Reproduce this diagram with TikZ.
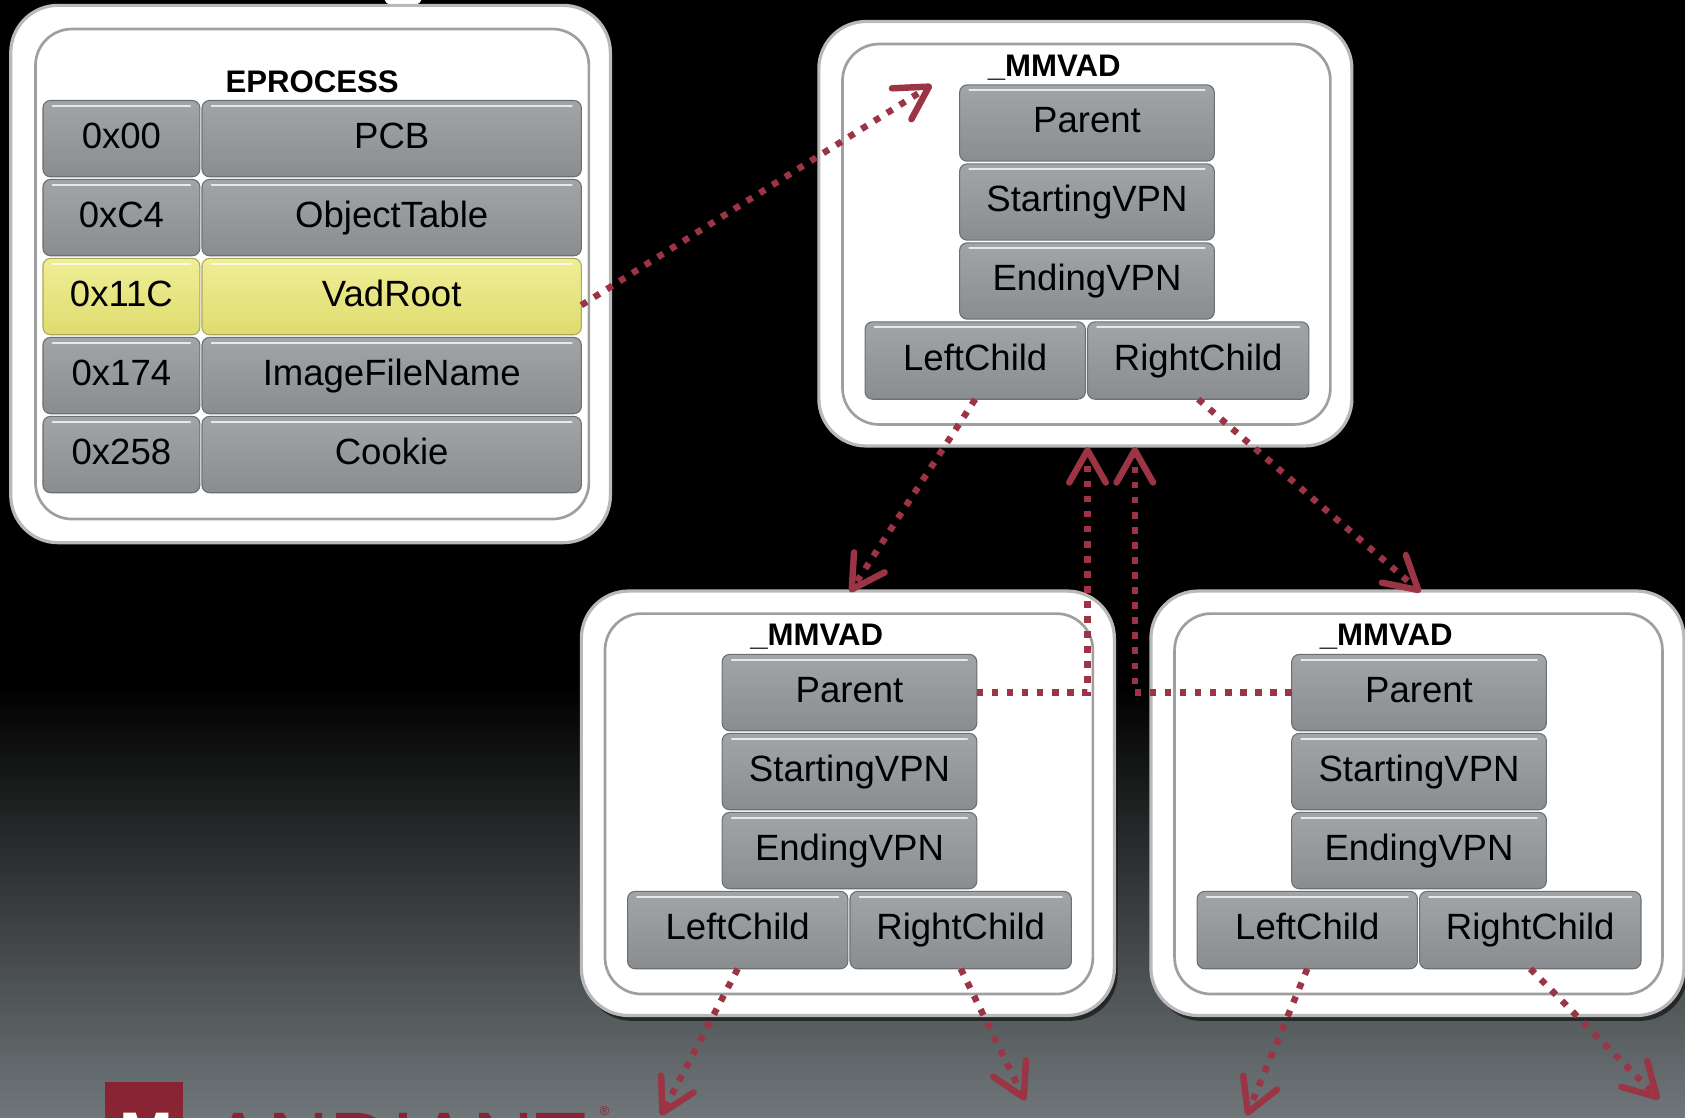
\documentclass[tikz,border=0pt]{standalone}
\usepackage{fontspec}
\setmainfont{Liberation Sans}
\usetikzlibrary{arrows.meta,shadows}
\definecolor{maroon}{RGB}{155,52,68}
\definecolor{logored}{RGB}{136,36,52}
\definecolor{celltop}{RGB}{162,165,168}
\definecolor{cellbot}{RGB}{138,141,144}
\definecolor{celledge}{RGB}{108,111,114}
\definecolor{vadtop}{RGB}{240,238,150}
\definecolor{vadbot}{RGB}{222,220,110}
\definecolor{vadedge}{RGB}{170,168,90}
\definecolor{bgmid}{RGB}{70,76,79}
\definecolor{bgbottom}{RGB}{112,119,122}
\tikzset{
  cell/.style={rectangle, rounded corners=7pt, draw=celledge, line width=1pt,
    top color=celltop, bottom color=cellbot, inner sep=0pt, outer sep=0pt,
    font=\fontsize{34}{40}\selectfont, text height=25pt, text depth=7pt,
    path picture={\draw[white, opacity=.75, line width=2pt, line cap=round]
      ([xshift=9pt,yshift=-5pt]path picture bounding box.north west) --
      ([xshift=-9pt,yshift=-5pt]path picture bounding box.north east);}},
  vadcell/.style={cell, top color=vadtop, bottom color=vadbot, draw=vadedge},
  outerbox/.style={fill=white, draw=gray!55, line width=3pt, rounded corners=44pt,
    drop shadow={shadow xshift=3pt, shadow yshift=-5pt, opacity=.55, fill=black}},
  innerbox/.style={draw=gray!75, line width=2.5pt, rounded corners=34pt},
  ttl/.style={font=\bfseries\fontsize{29}{34}\selectfont, anchor=base, inner sep=0pt},
  link/.style={draw=maroon, line width=6pt, dash pattern=on 6pt off 8pt,
    -{Straight Barb[length=30pt, width=34pt, line width=6pt, round]}}
}
\newcommand\mmvadbox[3]{%
  \begin{scope}[shift={(#1,#2)}]
    \draw[outerbox] (0,0) rectangle (496,395);
    \draw[innerbox] (22,21) rectangle (476,375);
    \node[ttl] (#3t) at (219,51) {\_MMVAD};
    \node[cell, minimum width=237pt, minimum height=71pt] (#3p) at (249.5,94.5) {Parent};
    \node[cell, minimum width=237pt, minimum height=71pt] (#3s) at (249.5,168) {StartingVPN};
    \node[cell, minimum width=237pt, minimum height=71pt] (#3e) at (249.5,241.5) {EndingVPN};
    \node[cell, minimum width=205pt, minimum height=72pt] (#3l) at (145.5,315.5) {LeftChild};
    \node[cell, minimum width=206pt, minimum height=72pt] (#3r) at (353,315.5) {RightChild};
  \end{scope}}
\begin{document}
\begin{tikzpicture}[x=1pt,y=-1pt]
  \useasboundingbox (0,0) rectangle (1568,1040);
  % background
  \fill[black] (0,0) rectangle (1568,1040);
  \shade[top color=black, middle color=bgmid, bottom color=bgbottom] (0,640) rectangle (1568,1041);
  \begin{scope}
    \clip (0,0) rectangle (1568,1040);
    \fill[white] (375,0) ellipse [x radius=17, y radius=6];
    \fill[logored] (98,1007) rectangle (170,1100);
    \node[font=\bfseries\fontsize{60}{60}\selectfont, text=white, anchor=north, inner sep=0pt] (logoM) at (136,1036) {M};
    \node[font=\fontsize{80}{80}\selectfont, text=logored, anchor=north west, inner sep=0pt] (logoT) at (195,1036) {ANDIANT};
    \node[font=\fontsize{12}{12}\selectfont, text=logored, anchor=north west, inner sep=0pt] (logoR) at (558,1029) {®};
  \end{scope}
  % EPROCESS
  \draw[outerbox] (10,5) rectangle (568,505);
  \draw[innerbox] (33,27) rectangle (548,483);
  \node[ttl] (eptitle) at (290.5,86.5) {EPROCESS};
  \foreach \off/\fld/\yy/\nm in {0x00/PCB/129/pcb, 0xC4/ObjectTable/202.5/objt, 0x174/ImageFileName/349.5/img, 0x258/Cookie/423/cookie}{
    \node[cell, minimum width=146pt, minimum height=71pt] (\nm o) at (113,\yy) {\off};
    \node[cell, minimum width=353pt, minimum height=71pt] (\nm) at (364.5,\yy) {\fld};
  }
  \node[vadcell, minimum width=146pt, minimum height=71pt] (vadrooto) at (113,276) {0x11C};
  \node[vadcell, minimum width=353pt, minimum height=71pt] (vadroot) at (364.5,276) {VadRoot};
  % MMVAD boxes
  \mmvadbox{762}{20}{T}
  \mmvadbox{541}{550}{L}
  \mmvadbox{1071}{550}{R}
  % arrow end points
  \coordinate (t1) at (867,79);
  \coordinate (t2) at (791,551);
  \coordinate (t3) at (1322,551);
  \coordinate (t4) at (1012,416);
  \coordinate (t5) at (1056,416);
  \coordinate (t6) at (615,1038);
  \coordinate (t7) at (954,1024);
  \coordinate (t8) at (1160,1038);
  \coordinate (t9) at (1544,1023);
  % connectors
  \draw[link] ([yshift=-8pt]vadroot.east) -- (t1);
  \draw[link] (Tl.south) -- (t2);
  \draw[link] (Tr.south) -- (t3);
  \draw[link] (Lp.east) -| (t4);
  \draw[link] (Rp.west) -| (t5);
  \draw[link] (Ll.south) -- (t6);
  \draw[link] (Lr.south) -- (t7);
  \draw[link] (Rl.south) -- (t8);
  \draw[link] (Rr.south) -- (t9);
\end{tikzpicture}
\end{document}
